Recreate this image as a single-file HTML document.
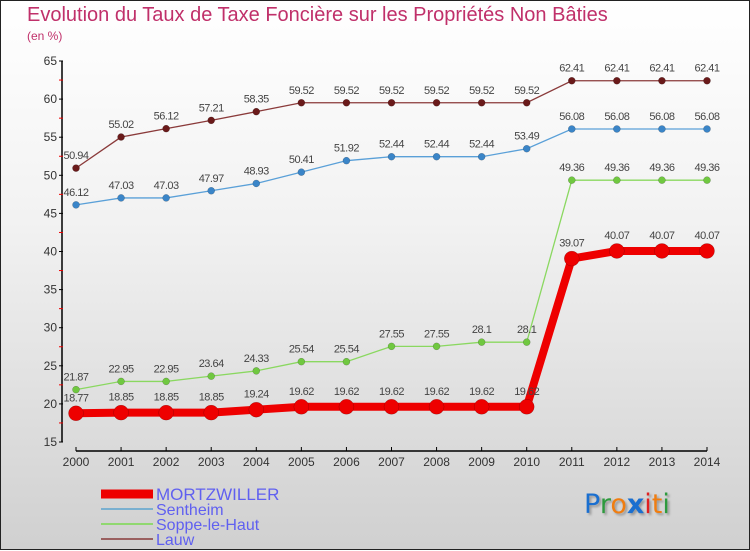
<!DOCTYPE html>
<html><head><meta charset="utf-8"><style>
body{margin:0;width:750px;height:550px;overflow:hidden;font-family:"Liberation Sans",sans-serif}
#wrap{position:relative;width:748px;height:548px;border:1px solid #222;background:linear-gradient(#ffffff 0%,#f2f2f2 40%,#d0d0d0 100%)}
.t{position:absolute;white-space:nowrap}
</style></head><body>
<div id="wrap">
<div class="t" style="left:26px;top:3px;font-size:20px;color:#c0306a">Evolution du Taux de Taxe Foncière sur les Propriétés Non Bâties</div>
<div class="t" style="left:26px;top:28px;font-size:12px;color:#c0306a">(en %)</div>
<svg id="chart" width="750" height="550" style="position:absolute;left:0;top:0"></svg>
<div class="t" style="left:583px;top:488px;font-size:27px;font-family:'DejaVu Sans',sans-serif;text-shadow:2px 2px 2px #999"><span style="color:#1a6fd0">P</span><span style="color:#2e9a3e">r</span><span style="color:#f07d10">o</span><span style="color:#1a6fd0;font-weight:bold">x</span><span style="color:#e02020">i</span><span style="color:#f07d10">t</span><span style="color:#2e9a3e">i</span></div>
</div>
<script>
const years=[2000,2001,2002,2003,2004,2005,2006,2007,2008,2009,2010,2011,2012,2013,2014];
const mortzwiller=[18.77,18.85,18.85,18.85,19.24,19.62,19.62,19.62,19.62,19.62,19.62,39.07,40.07,40.07,40.07];
const sentheim=[46.12,47.03,47.03,47.97,48.93,50.41,51.92,52.44,52.44,52.44,53.49,56.08,56.08,56.08,56.08];
const soppe=[21.87,22.95,22.95,23.64,24.33,25.54,25.54,27.55,27.55,28.1,28.1,49.36,49.36,49.36,49.36];
const lauw=[50.94,55.02,56.12,57.21,58.35,59.52,59.52,59.52,59.52,59.52,59.52,62.41,62.41,62.41,62.41];
const yTicks=[15,20,25,30,35,40,45,50,55,60,65];
const svg=document.getElementById('chart');const NS='http://www.w3.org/2000/svg';
function X(i){return 75+i*(706-75)/(years.length-1);}
function Y(v){return 60+(65-v)*7.62;}
function el(t,a,p){const e=document.createElementNS(NS,t);for(const k in a)e.setAttribute(k,a[k]);(p||svg).appendChild(e);return e;}
// axes
let ax=el('line',{x1:61,y1:60,x2:61,y2:441,stroke:'#000','stroke-width':1.5});


let bx=el('line',{x1:75,y1:450,x2:706,y2:450,stroke:'#000','stroke-width':1.5});


yTicks.forEach((v,i)=>{
 el('line',{x1:58,y1:Y(v),x2:62,y2:Y(v),stroke:'#000'});
 if(i<yTicks.length-1)el('line',{x1:58,y1:Y(v+2.5),x2:62,y2:Y(v+2.5),stroke:'#e00'});
 const t=el('text',{x:56,y:Y(v)+4,'text-anchor':'end','font-size':12,fill:'#333'});t.textContent=v;
 
 
});
years.forEach((yr,i)=>{
 el('line',{x1:X(i),y1:446,x2:X(i),y2:450,stroke:'#000'});
 const t=el('text',{x:X(i),y:465,'text-anchor':'middle','font-size':12,fill:'#333'});t.textContent=yr;
 
 
});
function series(data,color,dot,w,r,name){
 const g=el('g',{});
 
 
 el('polyline',{points:data.map((v,i)=>X(i)+','+Y(v)).join(' '),fill:'none',stroke:color,'stroke-width':w},g);
 data.forEach((v,i)=>{
  const c=el('circle',{cx:X(i),cy:Y(v),r:r,fill:dot,stroke:'rgba(0,0,0,0.3)','stroke-width':0.5},g);
  
  
  const t=el('text',{x:X(i),y:Y(v)-(r>5?12:9),'text-anchor':'middle','font-size':11,fill:'#444','letter-spacing':'-0.5'},g);t.textContent=v;
  
  
 });
}
series(lauw,'#8a3a3a','#6a1a1a',1.3,3.5,'lauw-series');
series(sentheim,'#5aa0d8','#3a85c8',1.3,3.5,'sentheim-series');
series(soppe,'#8ad860','#70c840',1.3,3.5,'soppe-series');
series(mortzwiller,'#ee0000','#ee0000',8,7.5,'mortzwiller-series');
// legend
const leg=[['MORTZWILLER','#ee0000',9,493,17],['Sentheim','#7ab0d0',2,508,16],['Soppe-le-Haut','#90d870',2,523,16],['Lauw','#9a6060',2,538,16]];
leg.forEach(l=>{
 const g=el('g',{});
 
 
 el('line',{x1:100,y1:l[3],x2:152,y2:l[3],stroke:l[1],'stroke-width':l[2]},g);
 const t=el('text',{x:155,y:l[3]+6,'font-size':l[4],fill:'#6060f0'},g);t.textContent=l[0];
});
</script>
</body></html>
